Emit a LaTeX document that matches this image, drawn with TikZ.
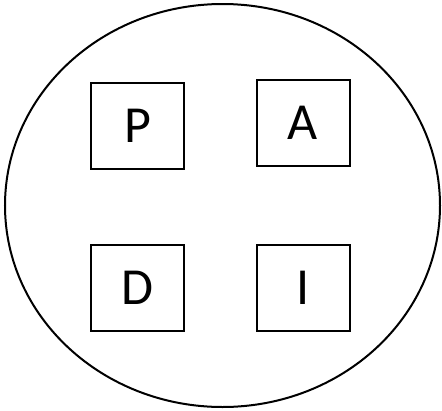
\documentclass[tikz,border=0pt]{standalone}
\usepackage{fontspec}
\setmainfont{Carlito}
\usetikzlibrary{shapes.geometric}
\begin{document}
\begin{tikzpicture}[x=1pt,y=-1pt,
  letterbox/.style={draw, line width=2pt, minimum width=93pt, minimum height=86pt, inner sep=0pt, font=\fontsize{52}{60}\selectfont},
  outer/.style={draw, ellipse, line width=2pt, minimum width=435pt, minimum height=403pt, inner sep=0pt}]
\useasboundingbox (0,0) rectangle (442,410);
\node[outer] (E) at (222.5,205.5) {};
\node[letterbox] (P) at (137.5,125.5) {\raisebox{-2pt}{P}};
\node[letterbox] (A) at (303,123) {\raisebox{-2pt}{A}};
\node[letterbox] (D) at (137.5,287.5) {\raisebox{-2pt}{D}};
\node[letterbox] (I) at (303.5,288) {\raisebox{-2pt}{I}};
\end{tikzpicture}
\end{document}
